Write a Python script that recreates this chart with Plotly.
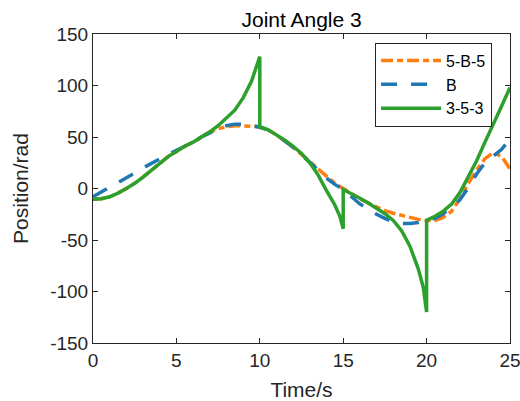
import plotly.graph_objects as go

# ---- data ----
t_green = [0, 0.5, 1, 1.5, 2, 2.5, 3, 3.5, 4, 4.5, 5, 5.5, 6, 6.5, 7, 7.5, 8, 8.5, 9, 9.5, 10,
           10, 10.5, 11, 11.5, 12, 12.5, 13, 13.5, 14, 14.5, 14.8, 15,
           15, 15.5, 16, 16.5, 17, 17.5, 18, 18.5, 19, 19.5, 19.8, 20,
           20, 20.5, 21, 21.5, 22, 22.5, 23, 23.5, 24, 24.5, 25]
v_green = [-10.5, -10, -8, -4.5, 0, 5, 11, 18, 25, 31, 36, 41, 45, 50, 55, 61, 68, 76, 88, 104, 128,
           60, 57, 52, 47, 41, 34, 25, 13, -2, -16, -27, -39,
           -1, -5, -9.5, -14, -19, -24.5, -31, -41, -56, -78, -96, -120,
           -31, -27, -22, -15, -4, 11, 27, 45, 62, 80, 98]

t_orange = [0, 0.5, 1, 1.5, 2, 2.5, 3, 3.5, 4, 4.5, 5, 5.5, 6, 6.5, 7, 7.5, 8, 8.5, 9, 9.5, 10,
            10.5, 11, 11.5, 12, 12.5, 13, 13.5, 14, 14.5, 15, 15.5, 16, 16.5, 17, 17.5, 18, 18.5,
            19, 19.5, 20, 20.5, 21, 21.5, 22, 22.5, 23, 23.5, 24, 24.5, 25]
v_orange = [-10.5, -10, -8, -4.5, 0, 5, 11, 18, 25, 31, 36, 41, 45, 50, 54.5, 58, 60, 61, 61, 60.5, 59.5,
            57, 52, 46.5, 40, 33, 26, 18, 11, 5, 0, -5, -10, -14, -18, -21.5, -24, -26,
            -28, -30, -31, -31, -28, -22, -10, 5, 18, 29, 35, 31, 19]

t_blue = [0, 0.5, 1, 1.5, 2, 2.5, 3, 3.5, 4, 4.5, 5, 5.5, 6, 6.5, 7, 7.5, 8, 8.5, 9, 9.5, 10,
          10.5, 11, 11.5, 12, 12.5, 13, 13.5, 14, 14.5, 15, 15.5, 16, 16.5, 17, 17.5, 18, 18.5,
          19, 19.5, 20, 20.5, 21, 21.5, 22, 22.5, 23, 23.5, 24, 24.5, 25]
v_blue = [-8, -3.5, 1, 6, 10.5, 15, 20, 24.5, 29, 33, 37, 41, 45, 50, 54, 58, 61, 62.5, 62.5, 61.5, 59.5,
          57, 52, 46.5, 40, 33, 25, 18, 10, 4, -1, -8, -15, -20, -25, -29, -32.5, -34,
          -34, -33, -31, -29, -24.5, -18, -11, 1, 14, 25, 32, 38, 48]

x_ticks = [0, 5, 10, 15, 20, 25]
x_labels = ["0", "5", "10", "15", "20", "25"]
y_ticks = [-150, -100, -50, 0, 50, 100, 150]
y_labels = ["-150", "-100", "-50", "0", "50", "100", "150"]

FONT = "Liberation Sans, Arial, sans-serif"
AX = "#262626"

fig = go.Figure()
fig.add_trace(go.Scatter(x=t_orange, y=v_orange, mode="lines", name="5-B-5",
                         line=dict(color="#FF7F0E", width=3.5, dash="12px,4px,6px,4px")))
fig.add_trace(go.Scatter(x=t_blue, y=v_blue, mode="lines", name="B",
                         line=dict(color="#1F77B4", width=3.5, dash="16px,14px")))
fig.add_trace(go.Scatter(x=t_green, y=v_green, mode="lines", name="3-5-3",
                         line=dict(color="#2CA02C", width=3.5)))

axis_common = dict(showgrid=False, zeroline=False, showline=True, linecolor=AX, linewidth=1,
                   mirror="ticks", ticks="inside", ticklen=5, tickcolor=AX,
                   ticklabeloverflow="allow", automargin=False,
                   tickfont=dict(family=FONT, size=19, color=AX))

fig.update_layout(
    width=520, height=401,
    margin=dict(l=93, r=10, t=34, b=58),
    paper_bgcolor="white", plot_bgcolor="white",
    title=dict(text="Joint Angle 3", x=0.58, xanchor="center", y=0.952, yanchor="middle",
               font=dict(family=FONT, size=21, color="#000000")),
    xaxis=dict(range=[0, 25], tickvals=x_ticks, ticktext=x_labels, **axis_common,
               title=dict(text="Time/s", font=dict(family=FONT, size=21, color=AX))),
    yaxis=dict(range=[-150, 150], tickvals=y_ticks, ticktext=y_labels, **axis_common,
               title=dict(text="Position/rad", font=dict(family=FONT, size=21, color=AX))),
    legend=dict(x=0.957, y=0.972, xanchor="right", yanchor="top",
                bgcolor="white", bordercolor=AX, borderwidth=1,
                font=dict(family=FONT, size=16, color="#000000"),
                itemwidth=60, tracegroupgap=0),
    showlegend=True,
)

fig.write_html("out.html")
